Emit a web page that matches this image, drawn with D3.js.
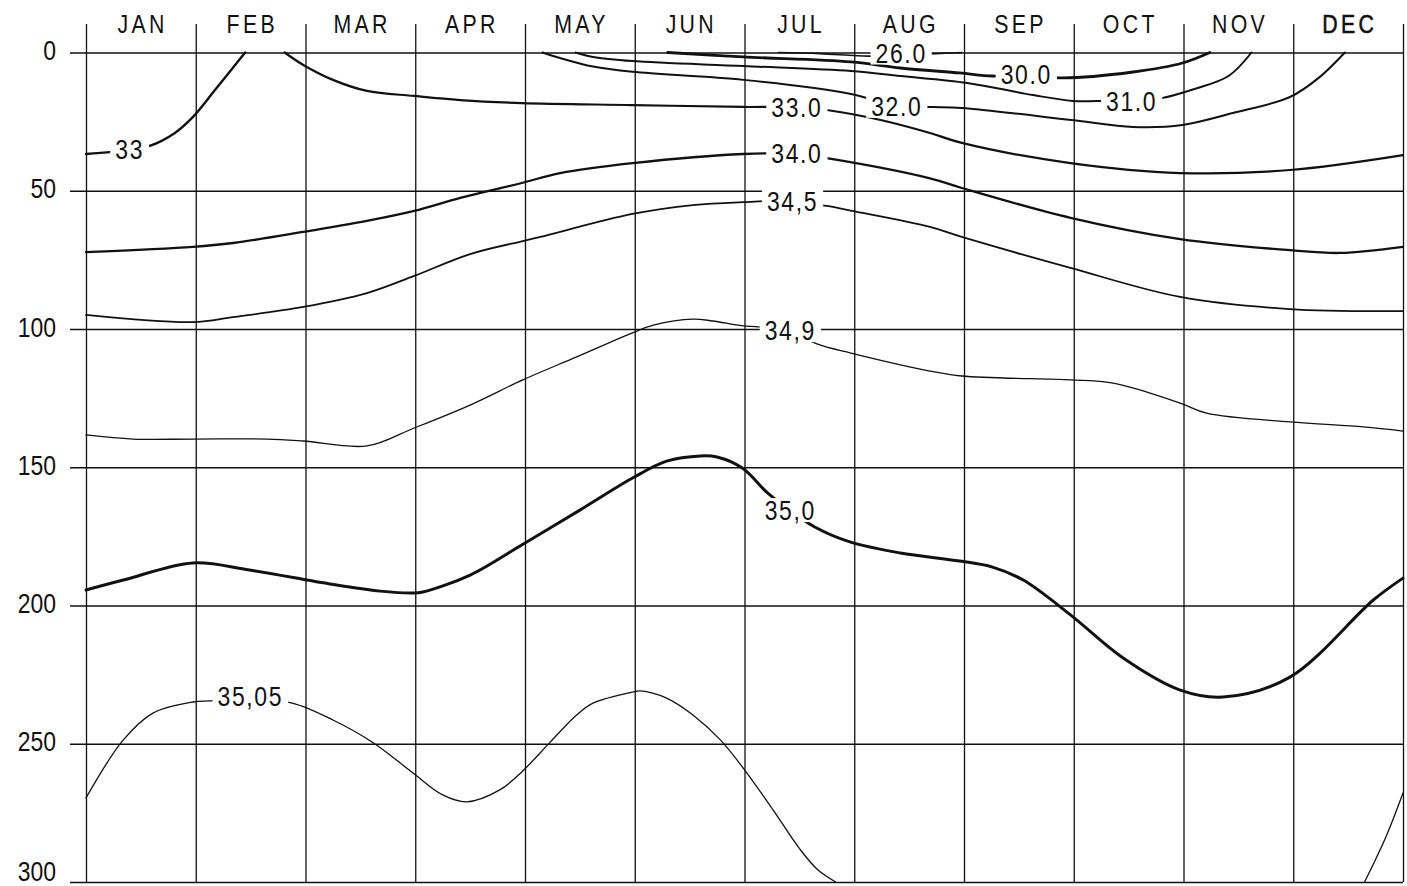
<!DOCTYPE html>
<html><head><meta charset="utf-8">
<script src="https://cdn.jsdelivr.net/npm/d3@7"></script>
<style>body{margin:0;background:#fff}svg{display:block}</style>
</head><body><svg id="c" width="1407" height="886"></svg>
<script>
// ---------- data ----------
const months = ["JAN","FEB","MAR","APR","MAY","JUN","JUL","AUG","SEP","OCT","NOV","DEC"];
const depthTicks = [0,50,100,150,200,250,300];
const monthEdges = [0,1,2,3,4,5,6,7,8,9,10,11,12];

// contour points: [month position (0..12), depth m]
const c33   = [[0,36.7],[0.39,35.3],[0.58,33.8],[0.81,29.1],[0.975,23.3],[1.175,13.6],[1.45,0]];
const c33_0 = [[1.81,0],[1.98,4.5],[2.25,9.9],[2.56,13.9],[2.99,15.7],[3.41,17.2],[3.97,18.3],[4.98,19.0],[5.99,19.7],[6.47,19.7],[6.75,20.8],[7.24,24.4],[7.69,29.1],[7.98,32.7],[8.97,40.0],[9.97,43.6],[10.97,42.5],[12,37.1]];
const c32_0 = [[4.16,0],[4.32,2.0],[4.62,5.1],[4.98,7.0],[5.99,9.9],[6.97,15.0],[7.38,19.3],[7.71,19.7],[7.98,20.1],[8.98,24.4],[9.54,26.9],[9.99,26.2],[10.45,21.9],[10.97,16.1],[11.24,8.9],[11.47,0]];
const c31_0 = [[4.46,0],[4.62,1.6],[4.98,3.1],[5.99,4.9],[6.97,6.7],[7.42,8.5],[8.03,11.0],[8.63,15.4],[8.99,17.5],[9.27,17.5],[9.52,17.2],[9.80,16.5],[10.10,13.2],[10.41,8.5],[10.62,0]];
const c30_0 = [[5.30,0],[5.99,1.6],[6.97,3.4],[7.42,5.6],[7.96,7.4],[8.26,8.5],[8.56,8.1],[8.90,9.2],[9.54,7.05],[9.99,3.8],[10.24,0]];
const c26_0 = [[6.31,0],[6.69,0.4],[7.13,1.3],[7.42,0.9],[7.74,0.4],[7.98,0]];
const c34_0 = [[0,72.2],[0.975,70.3],[1.34,68.9],[1.98,64.9],[2.56,60.9],[2.99,57.3],[3.41,52.6],[3.97,47.2],[4.32,43.6],[4.98,40.0],[5.99,36.7],[6.47,36.7],[6.75,38.2],[7.69,45.5],[7.98,49.0],[8.97,59.8],[9.97,67.5],[10.97,71.5],[11.43,72.5],[12,70.3]];
const c34_5 = [[0,94.9],[0.975,97.5],[1.34,95.7],[1.98,92.0],[2.56,87.0],[2.99,80.8],[3.50,72.9],[3.98,68.2],[4.14,66.7],[4.98,58.4],[5.53,55.2],[5.99,54.1],[6.43,53.7],[6.75,55.5],[6.98,57.3],[7.69,63.1],[7.98,66.7],[8.97,77.9],[9.97,88.4],[10.97,92.8],[12,93.5]];
const c34_9 = [[0,138.3],[0.43,139.8],[0.975,139.8],[1.65,139.8],[1.98,140.5],[2.56,142.3],[2.99,135.8],[3.50,127.5],[3.98,118.4],[4.47,110.1],[4.98,101.4],[5.17,98.6],[5.53,96.4],[5.71,97.1],[5.99,98.9],[6.41,100.4],[6.66,105.4],[6.97,108.7],[7.69,115.2],[7.98,117.0],[8.97,118.4],[9.30,119.2],[9.51,121.0],[9.97,126.8],[10.21,130.4],[10.97,133.6],[11.64,135.4],[12,136.9]];
const c35_0 = [[0,194.4],[0.34,190.8],[0.975,184.6],[1.49,187.2],[2.22,192.2],[2.68,194.8],[2.98,195.5],[3.07,195.1],[3.50,189.0],[3.97,178.1],[4.50,165.5],[4.98,153.9],[5.29,147.8],[5.60,145.9],[5.75,146.3],[5.98,150.3],[6.21,159.3],[6.41,165.5],[6.64,171.6],[6.96,177.0],[7.42,181.0],[7.96,183.9],[8.26,186.1],[8.54,190.8],[8.97,203.4],[9.45,219.0],[9.97,230.6],[10.36,233.1],[10.97,225.9],[11.73,198.0],[12,190.1]];
const c35_05a = [[0,269.6],[0.34,248.6],[0.61,238.9],[0.975,234.9],[1.13,234.5],[1.49,233.8],[1.88,235.3],[2.25,241.4],[2.62,249.7],[2.98,260.6],[3.25,268.5],[3.47,271.0],[3.77,266.7],[3.97,260.2],[4.23,249.4],[4.47,239.6],[4.62,235.3],[4.98,231.3],[5.05,230.9],[5.29,233.5],[5.53,239.6],[5.78,248.6],[5.98,258.4],[6.26,273.9],[6.51,288.4],[6.67,295.7],[6.83,300]];
const c35_05b = [[11.65,300],[11.84,284.1],[12,267.8]];

const labelText  = ["33","33.0","32.0","31.0","30.0","26.0","34.0","34,5","34,9","35,0","35,05"];
const labelMonth = [0.39,6.47,7.38,9.52,8.56,7.42,6.47,6.43,6.41,6.41,1.49];
const labelDepth = [34.9,19.7,19.3,17.5,7.8,0.0,36.5,53.7,100.4,165.5,232.6];

// ---------- styles (kept apart from data) ----------
const contourList = [
  {pts:c33, w:2.4}, {pts:c33_0, w:2.2}, {pts:c32_0, w:2.0}, {pts:c31_0, w:2.0},
  {pts:c30_0, w:2.8}, {pts:c26_0, w:1.6}, {pts:c34_0, w:2.3}, {pts:c34_5, w:1.8},
  {pts:c34_9, w:1.3}, {pts:c35_0, w:3.0}, {pts:c35_05a, w:1.3}, {pts:c35_05b, w:1.3}
];
const INK = "#111";
const SX = 0.82;           // horizontal condensing for the narrow lettering
const FONT = "'Liberation Sans', Arial, sans-serif";

// ---------- scales ----------
const svg = d3.select("#c");
const x = d3.scaleLinear().domain([0,12]).range([86,1403]);
const y = d3.scaleLinear().domain([0,300]).range([52.5,882]);
const band = d3.scaleBand().domain(months).range([86,1403]);

// ---------- grid: horizontal (y axis) ----------
const yAxis = svg.append("g").attr("transform","translate(70,0)")
  .call(d3.axisLeft(y).tickValues(depthTicks).tickSize(-(1403-70)).tickPadding(14).tickFormat(d3.format("d")));
yAxis.select(".domain").remove();
yAxis.selectAll("line").attr("stroke",INK).attr("stroke-width",1.3);
yAxis.selectAll("text")
  .attr("x",0).attr("dy",null)
  .attr("transform", d => `translate(-14,${d===300?-2:7}) scale(${SX},1)`)
  .attr("font-size",28).attr("font-family",FONT).attr("fill",INK);

// ---------- grid: vertical (month edges) ----------
const xAxis = svg.append("g").attr("transform","translate(0,24)")
  .call(d3.axisTop(x).tickValues(monthEdges).tickSize(-(882-24)).tickFormat(""));
xAxis.select(".domain").remove();
xAxis.selectAll("line").attr("stroke",INK).attr("stroke-width",1.3);

// ---------- month labels ----------
const mAxis = svg.append("g").attr("transform","translate(0,33)")
  .call(d3.axisTop(band).tickSize(0).tickPadding(0));
mAxis.select(".domain").remove();
mAxis.selectAll("text")
  .attr("y",0).attr("dy",null).attr("dx",2)
  .attr("transform",`scale(${SX},1)`)
  .attr("font-size",26).attr("font-family",FONT).attr("letter-spacing",4)
  .attr("fill",INK)
  .attr("stroke", d => d==="DEC" ? INK : null).attr("stroke-width", d => d==="DEC" ? 0.6 : null);

// ---------- contours ----------
const line = d3.line().x(d=>x(d[0])).y(d=>y(d[1])).curve(d3.curveCatmullRom.alpha(0.5));
svg.append("g").selectAll("path").data(contourList).join("path")
  .attr("d", d => line(d.pts))
  .attr("fill","none").attr("stroke",INK)
  .attr("stroke-width", d => d.w)
  .attr("stroke-linecap","round").attr("stroke-linejoin","round");

// ---------- contour labels ----------
const lg = svg.append("g");
labelText.forEach((t,i) => {
  const gg = lg.append("g")
    .attr("transform",`translate(${x(labelMonth[i])},${y(labelDepth[i])}) scale(${SX},1)`);
  const r = gg.append("rect").attr("fill","#fff");
  const tx = gg.append("text").text(t)
    .attr("text-anchor","middle").attr("y",10).attr("dx",1)
    .attr("font-size",28).attr("font-family",FONT).attr("letter-spacing",2)
    .attr("fill",INK);
  const b = tx.node().getBBox();
  r.attr("x", b.x - 5/SX).attr("width", b.width + 10/SX).attr("y",-12).attr("height",24);
});
</script>
</body></html>
